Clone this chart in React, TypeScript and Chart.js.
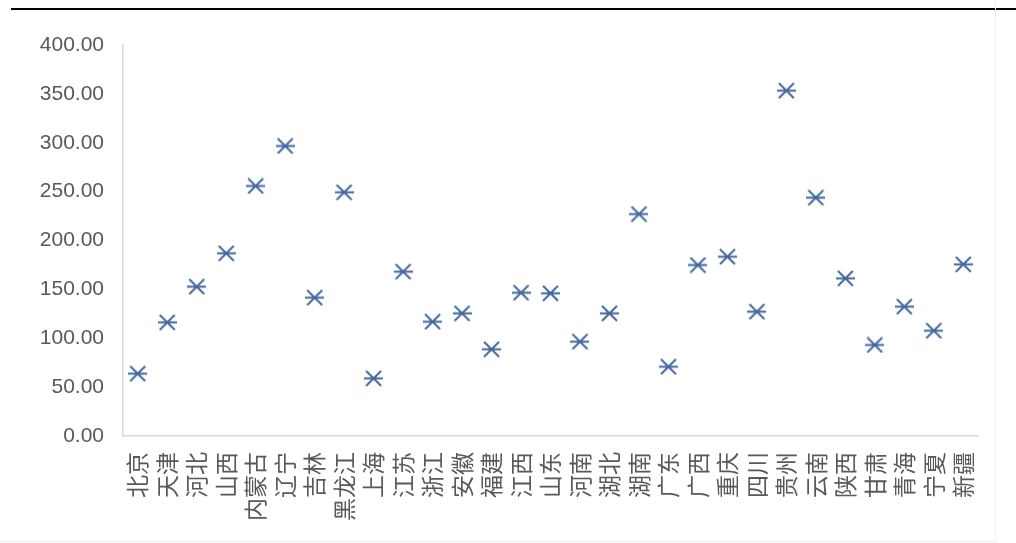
import React, { useEffect, useRef } from "react";
import { Chart, registerables } from "chart.js";

Chart.register(...registerables);

const provinces = [
  "北京", "天津", "河北", "山西", "内蒙古", "辽宁", "吉林", "黑龙江", "上海", "江苏",
  "浙江", "安徽", "福建", "江西", "山东", "河南", "湖北", "湖南", "广东", "广西",
  "重庆", "四川", "贵州", "云南", "陕西", "甘肃", "青海", "宁夏", "新疆",
];

const values = [
  63.8, 116.3, 152.8, 186.9, 255.8, 296.7, 141.5, 249.3, 59.0, 168.1,
  116.9, 125.5, 88.7, 146.6, 146.0, 96.5, 125.5, 227.1, 70.9, 174.9,
  183.4, 127.2, 353.3, 243.8, 161.3, 93.1, 132.3, 107.7, 175.6,
];

const yMin = 0;
const yMax = 400;
const yStep = 50;

const MARKER_COLOR = "#43699f";
const TEXT_COLOR = "#595959";
const AXIS_COLOR = "#d9d9d9";

// Asterisk-style marker: a diagonal cross with a horizontal bar through it.
function makeMarker(): HTMLCanvasElement {
  const w = 19;
  const h = 17;
  const c = document.createElement("canvas");
  c.width = w;
  c.height = h;
  const ctx = c.getContext("2d")!;
  ctx.strokeStyle = MARKER_COLOR;
  ctx.lineWidth = 2;
  ctx.lineCap = "butt";
  ctx.beginPath();
  ctx.moveTo(2, 1);
  ctx.lineTo(w - 2, h - 1);
  ctx.moveTo(w - 2, 1);
  ctx.lineTo(2, h - 1);
  ctx.moveTo(0, h / 2);
  ctx.lineTo(w, h / 2);
  ctx.stroke();
  return c;
}

export default function App() {
  const canvasRef = useRef<HTMLCanvasElement | null>(null);

  useEffect(() => {
    if (!canvasRef.current) return;
    const marker = makeMarker();
    const chart = new Chart(canvasRef.current, {
      type: "line",
      data: {
        labels: provinces,
        datasets: [
          {
            data: values,
            showLine: false,
            pointStyle: marker as any,
            pointRadius: 9,
            pointHoverRadius: 9,
            borderColor: MARKER_COLOR,
            backgroundColor: MARKER_COLOR,
          },
        ],
      },
      options: {
        animation: false,
        responsive: false,
        maintainAspectRatio: false,
        events: [],
        layout: { padding: { top: 45, left: 0, right: 38, bottom: 0 } },
        plugins: {
          legend: { display: false },
          tooltip: { enabled: false },
          title: { display: false },
        },
        scales: {
          x: {
            type: "category",
            offset: true,
            grid: { display: false, drawTicks: false },
            border: { display: true, color: AXIS_COLOR, width: 1.5 },
            ticks: {
              autoSkip: false,
              minRotation: 90,
              maxRotation: 90,
              padding: 16,
              color: TEXT_COLOR,
              font: { family: "'Noto Sans CJK SC', sans-serif", size: 23 },
            },
            afterFit: (scale: any) => {
              scale.height = 107;
            },
          },
          y: {
            min: yMin,
            max: yMax,
            grid: { display: false, drawTicks: false },
            border: { display: true, color: AXIS_COLOR, width: 1.5 },
            ticks: {
              stepSize: yStep,
              padding: 19,
              color: TEXT_COLOR,
              font: { family: "'Liberation Sans', sans-serif", size: 21 },
              callback: (v: any) => Number(v).toFixed(2),
            },
            afterFit: (scale: any) => {
              scale.width = 123;
            },
          },
        },
      },
    });
    return () => chart.destroy();
  }, []);

  return (
    <div
      style={{
        position: "absolute",
        left: 0,
        top: 0,
        width: 1016,
        height: 543,
        background: "#ffffff",
        overflow: "hidden",
      }}
    >
      <div
        style={{
          position: "absolute",
          left: 11,
          top: 8,
          width: 1005,
          height: 2,
          background: "#000000",
        }}
      />
      <div
        style={{
          position: "absolute",
          left: 0,
          top: 0,
          width: 995,
          height: 541,
          borderRight: "1px solid #efefef",
          borderBottom: "1px solid #efefef",
        }}
      />
      <canvas
        ref={canvasRef}
        width={1016}
        height={543}
        style={{ position: "absolute", left: 0, top: 0, width: 1016, height: 543 }}
      />
    </div>
  );
}
